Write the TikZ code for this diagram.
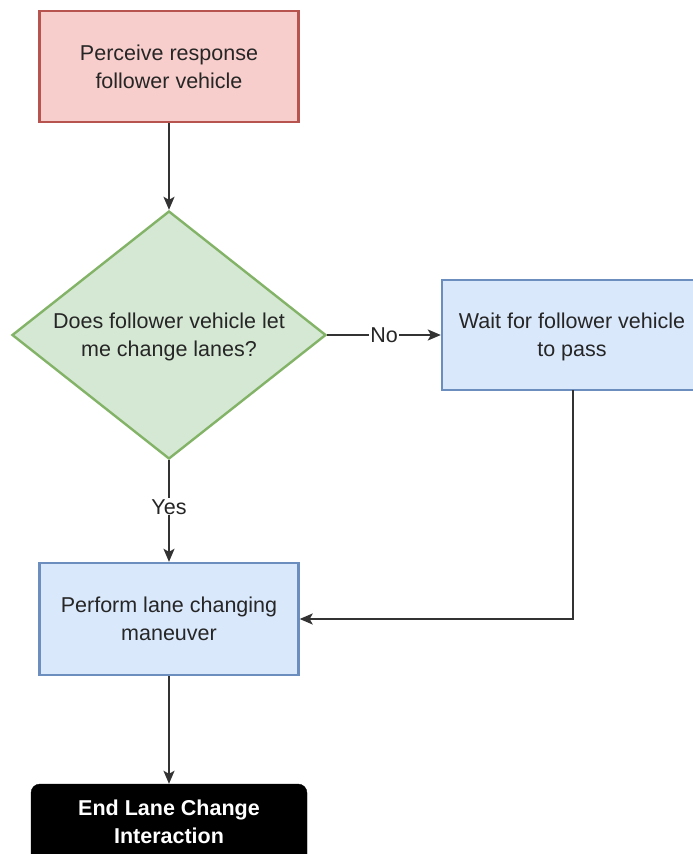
\documentclass[tikz,border=0pt]{standalone}
\usepackage{fontspec}
\setmainfont{Liberation Sans}
\usetikzlibrary{arrows.meta,shapes.geometric}
\definecolor{redfill}{HTML}{F8CECC}
\definecolor{redline}{HTML}{B85450}
\definecolor{greenfill}{HTML}{D5E8D4}
\definecolor{greenline}{HTML}{82B366}
\definecolor{bluefill}{HTML}{DAE8FC}
\definecolor{blueline}{HTML}{6C8EBF}
\definecolor{conn}{HTML}{333333}
\tikzset{
  txt/.style={font=\fontsize{21.5}{28}\selectfont, align=center, text=black!85},
  procbox/.style={rectangle, draw=#1line, fill=#1fill, line width=2.4pt, inner sep=0pt},
  decbox/.style={diamond, draw=greenline, fill=greenfill, line width=2.4pt, inner sep=0pt, minimum width=314pt, minimum height=248pt},
  endbox/.style={rectangle, rounded corners=9pt, fill=black, draw=black, inner sep=0pt, minimum width=276pt, minimum height=80pt},
  conn/.style={draw=conn, line width=1.8pt, -{Stealth[length=13pt,width=11pt,inset=3pt]}},
  lbl/.style={txt, fill=white, inner sep=1pt}
}
\begin{document}
\begin{tikzpicture}[x=1pt,y=-1pt]
\useasboundingbox (0,0) rectangle (693,854);
\clip (0,0) rectangle (693,854);
\fill[white] (0,0) rectangle (693,854);
% nodes
\node[procbox=red, minimum width=259pt, minimum height=111pt] (perc) at (169,66.5) {};
\node[txt] at (perc.center) {Perceive response\\follower vehicle};
\node[decbox] (dec) at (169,335) {};
\node[txt] (dect) at (169,337) {Does follower vehicle let\\me change lanes?};
\node[procbox=blue, minimum width=260pt, minimum height=110pt] (wait) at (572,335) {};
\node[txt] at (572,337) {Wait for follower vehicle\\to pass};
\node[procbox=blue, minimum width=259pt, minimum height=112pt] (perf) at (169,619) {};
\node[txt] at (perf.center) {Perform lane changing\\maneuver};
\node[endbox] (endn) at (169,824) {};
\node[txt, text=white, font=\bfseries\fontsize{21.5}{28}\selectfont] at (169,822) {End Lane Change\\Interaction};
% connectors
\draw[conn] (perc.south) -- (dec.north);
\draw[conn] (dec.east) -- node[lbl] {No} (wait.west);
\draw[conn] (dec.south) -- node[lbl, pos=0.46] {Yes} (perf.north);
\coordinate (bend) at (573,619);
\draw[conn] (573,390) -- (bend) -- (perf.east);
\draw[conn] (perf.south) -- (endn.north);
\end{tikzpicture}
\end{document}
